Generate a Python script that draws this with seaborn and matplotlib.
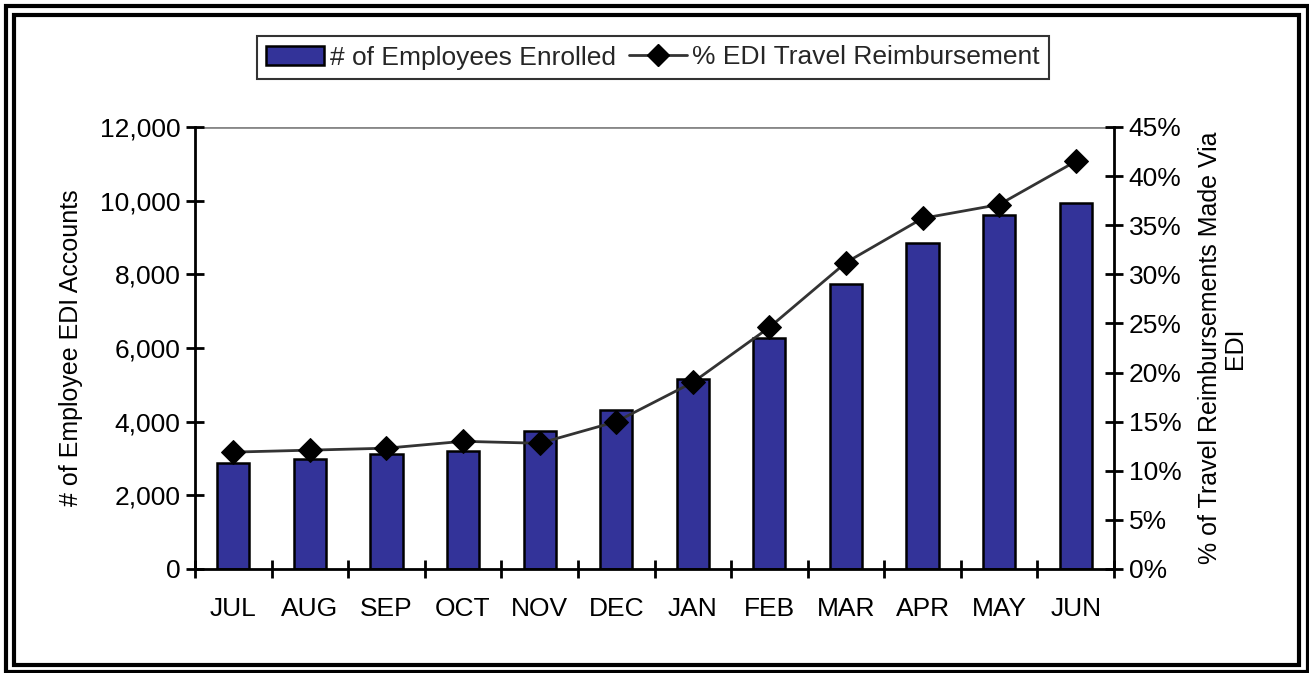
import matplotlib
matplotlib.use("Agg")
import matplotlib.pyplot as plt
import matplotlib.patches as mpatches
from matplotlib.lines import Line2D
from matplotlib.ticker import FuncFormatter, MultipleLocator, FixedLocator
import seaborn as sns
import pandas as pd

months = ["JUL", "AUG", "SEP", "OCT", "NOV", "DEC", "JAN", "FEB", "MAR", "APR", "MAY", "JUN"]
enrolled = [2870, 3000, 3110, 3200, 3760, 4310, 5170, 6280, 7750, 8860, 9610, 9930]
edi_pct = [11.9, 12.1, 12.3, 13.0, 12.8, 15.0, 19.0, 24.6, 31.2, 35.7, 37.1, 41.5]

bar_label = "# of Employees Enrolled"
line_label = "% EDI Travel Reimbursement"
left_ylabel = "# of Employee EDI Accounts"
right_ylabel = "% of Travel Reimbursements Made Via\nEDI"

df = pd.DataFrame({"month": months, "enrolled": enrolled, "pct": edi_pct})

sns.set_theme(style="white")
plt.rcParams["font.family"] = ["Liberation Sans", "DejaVu Sans"]

fig = plt.figure(figsize=(13.09, 6.73), dpi=100)
ax = fig.add_axes([195/1309, 1-569/673, (1114-195)/1309, (569-127)/673])

sns.barplot(data=df, x="month", y="enrolled", color="#333399", edgecolor="black",
            linewidth=1.8, width=0.42, saturation=1, ax=ax)
for p in ax.patches:
    p.set_facecolor("#333399")

ax2 = ax.twinx()
sns.lineplot(data=df, x="month", y="pct", color="#333333", linewidth=2,
             marker="D", markersize=12, markerfacecolor="black",
             markeredgecolor="black", ax=ax2, sort=False)

ax.set_xlim(-0.5, len(months) - 0.5)
ax.set_ylim(0, 12000)
ax2.set_ylim(0, 45)

ax.yaxis.set_major_locator(MultipleLocator(2000))
ax.yaxis.set_major_formatter(FuncFormatter(lambda v, p: f"{int(v):,}"))
ax2.yaxis.set_major_locator(MultipleLocator(5))
ax2.yaxis.set_major_formatter(FuncFormatter(lambda v, p: f"{int(v)}%"))

ax.set_xticks(range(len(months)))
ax.set_xticklabels(months)
ax.xaxis.set_minor_locator(FixedLocator([i + 0.5 for i in range(-1, len(months))]))
ax.tick_params(axis="x", which="major", length=0, labelsize=19, pad=20, colors="black")
ax.tick_params(axis="x", which="minor", direction="inout", length=13, width=2, color="black", bottom=True)
ax.tick_params(axis="y", which="major", direction="inout", length=13, width=2, labelsize=19,
               pad=4, color="black", left=True, labelcolor="black")
ax2.tick_params(axis="y", which="major", direction="inout", length=13, width=2, labelsize=19,
                pad=4, color="black", right=True, labelcolor="black")

ax.set_xlabel("")
ax.set_ylabel(left_ylabel, fontsize=18, color="black", labelpad=12)
ax2.set_xlabel("")
ax2.set_ylabel(right_ylabel, fontsize=18, color="black", labelpad=12, linespacing=1.05)

for a in (ax, ax2):
    for s in a.spines.values():
        s.set_visible(False)
ax.spines["left"].set_visible(True)
ax.spines["left"].set_color("black")
ax.spines["left"].set_linewidth(2)
ax.spines["bottom"].set_visible(True)
ax.spines["bottom"].set_color("black")
ax.spines["bottom"].set_linewidth(2)
ax2.spines["right"].set_visible(True)
ax2.spines["right"].set_color("black")
ax2.spines["right"].set_linewidth(2)
ax.axhline(12000, color="#888888", linewidth=2, zorder=0.5)
ax.grid(False)
ax2.grid(False)

handles = [mpatches.Patch(facecolor="#333399", edgecolor="black", linewidth=1.8),
           Line2D([0], [0], color="#333333", linewidth=2, marker="D", markersize=11,
                  markerfacecolor="black", markeredgecolor="black")]
leg = fig.legend(handles, [bar_label, line_label], loc="center", bbox_to_anchor=(653/1309, 1-57.5/673),
                 ncol=2, frameon=True, fancybox=False, shadow=False, fontsize=19,
                 handlelength=2.2, handletextpad=0.2, columnspacing=0.5, borderpad=0.35,
                 edgecolor="black")
leg.get_frame().set_linewidth(1.5)
if ax2.get_legend():
    ax2.get_legend().remove()

# double frame around figure
W, H = 1309, 673
fig.patches.append(mpatches.Rectangle((5.5/W, 1-671.5/H), (1307.5-5.5)/W, (671.5-5.5)/H,
                                      transform=fig.transFigure, fill=False, edgecolor="black", linewidth=3))
fig.patches.append(mpatches.Rectangle((13.5/W, 1-665/H), (1299-13.5)/W, (665-14.5)/H,
                                      transform=fig.transFigure, fill=False, edgecolor="black", linewidth=3))

fig.savefig("out.png", dpi=100)
